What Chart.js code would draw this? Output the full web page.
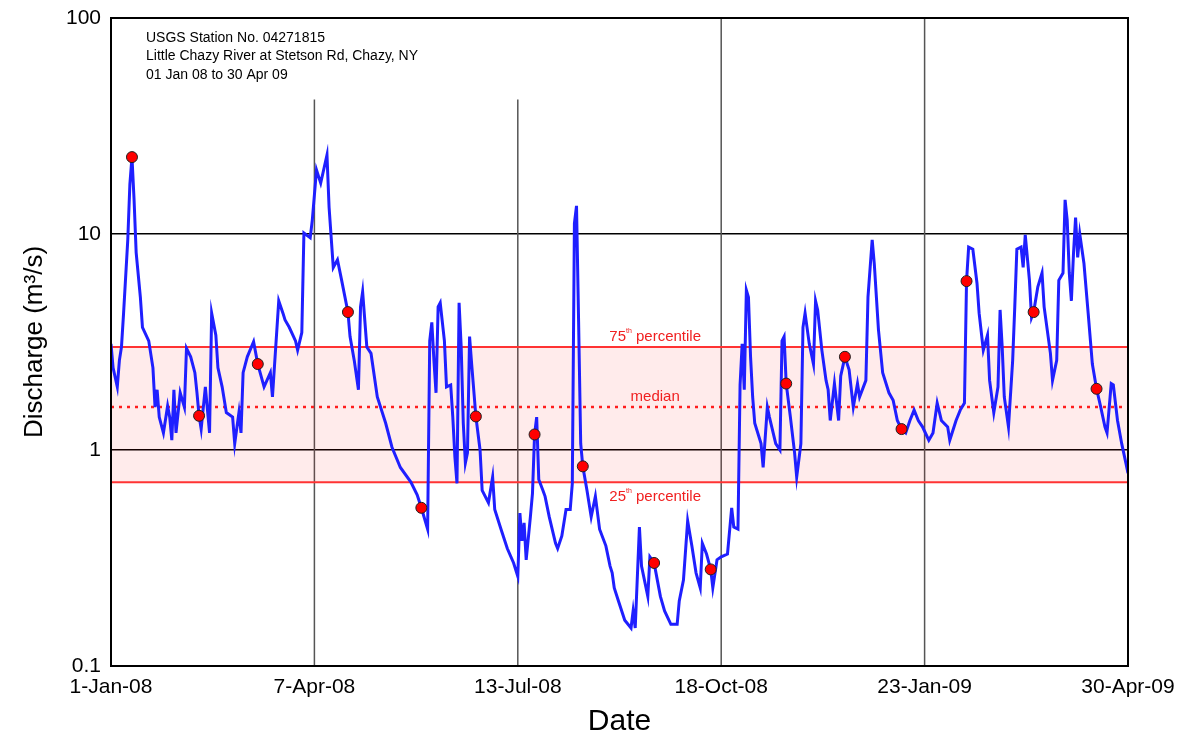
<!DOCTYPE html>
<html>
<head>
<meta charset="utf-8">
<script src="https://cdn.jsdelivr.net/npm/chart.js@4.4.1/dist/chart.umd.min.js"></script>
<style>
  html, body { margin: 0; padding: 0; background: #fff; }
  canvas { display: block; }
</style>
</head>
<body>
<canvas id="flowChart" width="1181" height="738"></canvas>
<script>
// ---------------- data (read off the hydrograph) -----------------
// day number counted from 1-Jan-08
const flowDays = [
    0, 1, 3, 4, 5, 6, 8, 9, 10, 11, 12, 14, 15, 18, 20, 21, 22, 23, 25, 27,
    28, 29, 30, 31, 33, 35, 36, 38, 40, 41, 42, 43, 45, 47, 48, 50, 51, 53, 55, 58,
    59, 61, 62, 63, 65, 68, 70, 73, 76, 77, 80, 82, 83, 85, 88, 89, 91, 92, 95, 96,
    98, 100, 101, 103, 104, 106, 108, 110, 113, 114, 116, 118, 119, 120, 122, 124, 127, 131, 134, 138,
    143, 146, 148, 151, 152, 153, 154, 155, 156, 157, 159, 160, 162, 163, 164, 165, 166, 167, 168, 169,
    170, 171, 172, 174, 176, 177, 180, 182, 183, 186, 189, 192, 194, 195, 196, 197, 198, 200, 201, 202,
    203, 204, 206, 207, 209, 212, 213, 215, 217, 219, 220, 221, 222, 223, 224, 225, 227, 229, 231, 233,
    236, 238, 239, 240, 242, 245, 248, 249, 250, 252, 253, 256, 257, 259, 262, 264, 267, 270, 271, 273,
    275, 277, 279, 281, 282, 284, 286, 287, 289, 291, 294, 296, 297, 299, 300, 301, 302, 303, 304, 305,
    306, 307, 310, 311, 313, 314, 317, 319, 320, 321, 322, 324, 326, 327, 329, 330, 331, 333, 335, 336,
    337, 339, 341, 342, 343, 345, 347, 348, 350, 352, 354, 356, 357, 360, 361, 363, 364, 366, 368, 371,
    373, 375, 377, 379, 381, 383, 385, 387, 390, 392, 394, 396, 399, 400, 403, 405, 407, 408, 409, 411,
    413, 414, 416, 418, 419, 421, 423, 424, 425, 426, 428, 430, 431, 432, 434, 435, 436, 438, 439, 440,
    442, 444, 445, 448, 449, 451, 452, 454, 455, 456, 457, 458, 459, 460, 461, 462, 464, 466, 468, 470,
    472, 474, 475, 477, 478, 480, 482, 484, 485
];
const flowValues = [
    3.1, 2.4, 1.96, 2.6, 3.0, 4.3, 9.4, 17, 22.7, 14.4, 8.2, 5.1, 3.7, 3.2, 2.4, 1.58, 1.9, 1.42, 1.2, 1.6,
    1.42, 1.11, 1.9, 1.2, 1.84, 1.58, 2.96, 2.7, 2.28, 1.84, 1.44, 1.25, 1.96, 1.2, 4.3, 3.4, 2.4, 1.96, 1.49, 1.42,
    1.07, 1.49, 1.2, 2.28, 2.7, 3.17, 2.5, 1.96, 2.28, 1.76, 4.9, 4.3, 4.0, 3.7, 3.2, 2.9, 3.5, 10.1, 9.6, 11.6,
    19.8, 17.2, 19, 23.2, 13.3, 7.0, 7.6, 6.1, 4.35, 3.35, 2.6, 1.9, 4.6, 5.4, 3.0, 2.8, 1.76, 1.33, 1.03, 0.83,
    0.71, 0.62, 0.54, 0.43, 3.2, 3.9, 2.6, 1.84, 4.6, 4.8, 3.2, 1.96, 2.0, 1.42, 0.93, 0.70, 4.8, 3.0, 1.33, 0.87,
    0.97, 3.35, 2.5, 1.43, 1.0, 0.65, 0.57, 0.75, 0.53, 0.43, 0.35, 0.30, 0.26, 0.51, 0.38, 0.46, 0.31, 0.49, 0.63, 1.18,
    1.42, 0.73, 0.65, 0.61, 0.49, 0.37, 0.35, 0.40, 0.53, 0.53, 0.70, 11.2, 13.5, 3.9, 1.07, 0.84, 0.65, 0.49, 0.61, 0.43,
    0.36, 0.29, 0.27, 0.23, 0.20, 0.163, 0.15, 0.18, 0.15, 0.44, 0.29, 0.21, 0.32, 0.30, 0.21, 0.18, 0.156, 0.156, 0.20, 0.25,
    0.47, 0.36, 0.27, 0.23, 0.37, 0.33, 0.28, 0.23, 0.31, 0.32, 0.33, 0.54, 0.44, 0.43, 2.0, 3.1, 1.9, 5.5, 5.1, 2.7,
    1.76, 1.33, 1.07, 0.83, 1.58, 1.42, 1.07, 1.0, 3.2, 3.35, 2.03, 1.42, 0.97, 0.75, 1.07, 3.7, 4.3, 3.1, 2.5, 4.9,
    4.45, 2.9, 2.1, 1.9, 1.37, 2.03, 1.37, 2.2, 2.7, 2.35, 1.58, 2.03, 1.76, 2.1, 5.1, 9.4, 7.3, 3.6, 2.28, 1.84,
    1.7, 1.37, 1.25, 1.2, 1.37, 1.53, 1.37, 1.28, 1.11, 1.2, 1.65, 1.37, 1.28, 1.11, 1.37, 1.53, 1.65, 6.05, 8.7, 8.5,
    5.9, 4.3, 2.9, 3.4, 2.1, 1.49, 1.96, 4.45, 3.0, 1.76, 1.28, 2.6, 4.6, 8.5, 8.7, 7.0, 9.9, 6.1, 4.1, 4.35,
    5.7, 6.6, 4.6, 2.8, 2.1, 2.6, 6.1, 6.6, 14.4, 11.6, 6.6, 4.9, 8.1, 11.9, 7.8, 10, 7.3, 4.3, 2.5, 1.92,
    1.58, 1.28, 1.2, 2.03, 2.0, 1.37, 1.07, 0.87, 0.78
];

// red dots = sampling days
const sampleDays = [10, 42, 70, 113, 148, 174, 202, 225, 259, 286, 322, 350, 377, 408, 440, 470];
const sampleValues = [22.7, 1.44, 2.5, 4.35, 0.54, 1.43, 1.18, 0.84, 0.30, 0.28, 2.03, 2.7, 1.25, 6.05, 4.35, 1.92];

// flow duration percentiles (m3/s)
const pct25 = 0.71;
const pctMedian = 1.58;
const pct75 = 3.0;

const tickDays = [0, 97, 194, 291, 388, 485];
const tickLabels = ['1-Jan-08', '7-Apr-08', '13-Jul-08', '18-Oct-08', '23-Jan-09', '30-Apr-09'];
const yTicks = [0.1, 1, 10, 100];

const infoLines = ['USGS Station No. 04271815', 'Little Chazy River at Stetson Rd, Chazy, NY', '01 Jan 08 to 30 Apr 09'];

const FONT = 'Arial, "Liberation Sans", sans-serif';
const firstDay = tickDays[0];
const lastDay = tickDays[tickDays.length - 1];

function flatLine(v) {
    return [{ x: firstDay, y: v }, { x: lastDay, y: v }];
}

// ---------------- plugins -----------------
// vertical date lines; the two under the station text stop short of it
const dateLines = {
    id: 'dateLines',
    beforeDatasetsDraw(chart) {
        const { ctx, chartArea, scales } = chart;
        const shortTop = scales.y.getPixelForValue(42);
        ctx.save();
        ctx.strokeStyle = '#555';
        ctx.lineWidth = 1.5;
        tickDays.slice(1, -1).forEach((d, i) => {
            const x = scales.x.getPixelForValue(d);
            const top = i < 2 ? shortTop : chartArea.top;
            ctx.beginPath();
            ctx.moveTo(x, top);
            ctx.lineTo(x, chartArea.bottom);
            ctx.stroke();
        });
        ctx.restore();
    }
};

function drawPctLabel(ctx, x, y, num, rest) {
    // number, superscript "th", rest of label, centred on x
    const big = '15px ' + FONT;
    const small = '7px ' + FONT;
    ctx.font = big;
    const wNum = ctx.measureText(num).width;
    const wRest = ctx.measureText(rest).width;
    ctx.font = small;
    const wSup = num ? ctx.measureText('th').width : 0;
    let cx = x - (wNum + wSup + wRest) / 2;
    ctx.textAlign = 'left';
    ctx.textBaseline = 'middle';
    ctx.font = big;
    ctx.fillText(num, cx, y);
    cx += wNum;
    if (num) {
        ctx.font = small;
        ctx.fillText('th', cx, y - 6);
        cx += wSup;
    }
    ctx.font = big;
    ctx.fillText(rest, cx, y);
}

const annotations = {
    id: 'annotations',
    afterDraw(chart) {
        const { ctx, chartArea, scales } = chart;
        ctx.save();
        // frame
        ctx.strokeStyle = '#000';
        ctx.lineWidth = 2;
        ctx.strokeRect(chartArea.left, chartArea.top, chartArea.right - chartArea.left, chartArea.bottom - chartArea.top);

        // percentile labels
        ctx.fillStyle = '#f02020';
        const lx = scales.x.getPixelForValue(259.5);
        drawPctLabel(ctx, lx, scales.y.getPixelForValue(pct75) - 10, '75', ' percentile');
        drawPctLabel(ctx, lx, scales.y.getPixelForValue(pctMedian) - 10, '', 'median');
        drawPctLabel(ctx, lx, scales.y.getPixelForValue(pct25) + 15, '25', ' percentile');

        // station text
        ctx.fillStyle = '#000';
        ctx.font = '14px ' + FONT;
        ctx.textAlign = 'left';
        ctx.textBaseline = 'middle';
        infoLines.forEach((t, i) => {
            ctx.fillText(t, chartArea.left + 35, chartArea.top + 20 + i * 18.5);
        });
        ctx.restore();
    }
};

// ---------------- chart -----------------
const flowData = flowDays.map((d, i) => ({ x: d, y: flowValues[i] }));
const sampleData = sampleDays.map((d, i) => ({ x: d, y: sampleValues[i] }));

new Chart(document.getElementById('flowChart'), {
    type: 'line',
    data: {
        datasets: [
            {
                label: 'samples',
                data: sampleData,
                showLine: false,
                pointRadius: 5.5,
                pointBackgroundColor: '#ff0000',
                pointBorderColor: '#202020',
                pointBorderWidth: 1,
                order: 0
            },
            {
                label: 'discharge',
                data: flowData,
                borderColor: '#1f1fff',
                borderWidth: 3,
                pointRadius: 0,
                tension: 0,
                order: 1
            },
            {
                label: '75th',
                data: flatLine(pct75),
                borderColor: '#ff3333',
                borderWidth: 2,
                pointRadius: 0,
                order: 2
            },
            {
                label: '25th',
                data: flatLine(pct25),
                borderColor: '#ff3333',
                borderWidth: 2,
                pointRadius: 0,
                fill: '-1',
                backgroundColor: 'rgba(255, 0, 0, 0.08)',
                order: 3
            },
            {
                label: 'median',
                data: flatLine(pctMedian),
                borderColor: '#ff2020',
                borderWidth: 2.5,
                borderDash: [3, 5],
                pointRadius: 0,
                order: 4
            }
        ]
    },
    options: {
        responsive: false,
        animation: false,
        devicePixelRatio: 1,
        layout: { padding: { top: 18, right: 53, left: 0, bottom: 0 } },
        plugins: {
            legend: { display: false },
            tooltip: { enabled: false }
        },
        scales: {
            x: {
                type: 'linear',
                min: firstDay,
                max: lastDay,
                afterBuildTicks: scale => { scale.ticks = tickDays.map(v => ({ value: v })); },
                afterFit: scale => { scale.height = 72; },
                grid: { display: false },
                border: { display: false },
                ticks: {
                    color: '#000',
                    font: { family: FONT, size: 21 },
                    padding: 1,
                    maxRotation: 0,
                    autoSkip: false,
                    callback: v => tickLabels[tickDays.indexOf(v)]
                },
                title: {
                    display: true,
                    text: 'Date',
                    color: '#000',
                    font: { family: FONT, size: 30 },
                    padding: { top: 0, bottom: -2 }
                }
            },
            y: {
                type: 'logarithmic',
                min: 0.1,
                max: 100,
                afterBuildTicks: scale => { scale.ticks = yTicks.map(v => ({ value: v })); },
                afterFit: scale => {
                    scale.width = 111;
                    scale.paddingTop = 0;
                    scale.paddingBottom = 0;
                },
                grid: { color: '#000', lineWidth: 1.5, drawTicks: false },
                border: { display: false },
                ticks: {
                    color: '#000',
                    font: { family: FONT, size: 21 },
                    padding: 10,
                    autoSkip: false,
                    callback: v => String(v)
                },
                title: {
                    display: true,
                    text: 'Discharge (m³/s)',
                    color: '#000',
                    font: { family: FONT, size: 26 },
                    padding: { top: 19, bottom: 0 }
                }
            }
        }
    },
    plugins: [dateLines, annotations]
});
</script>
</body>
</html>
